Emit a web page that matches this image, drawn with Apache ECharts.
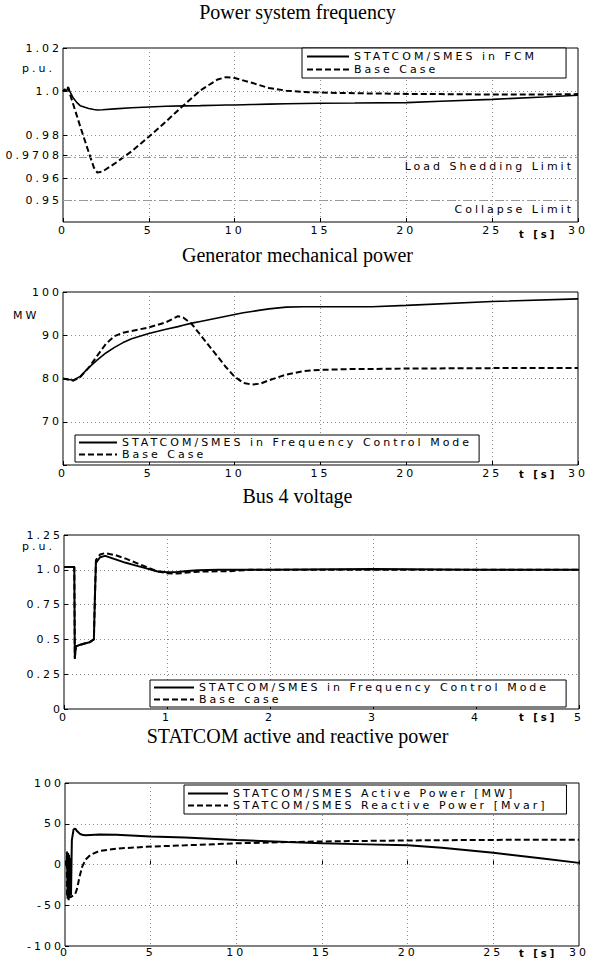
<!DOCTYPE html>
<html>
<head>
<meta charset="utf-8">
<script src="https://cdn.jsdelivr.net/npm/echarts@6/dist/echarts.min.js"></script>
<style>
  html, body { margin: 0; padding: 0; background: #fff; }
  #main { width: 595px; height: 958px; }
  /* the scanned figure uses a very wide sans face */
  #main text[style*="DejaVu"] { letter-spacing: 3px; }
</style>
</head>
<body>
<div id="main"></div>
<script>
// ---- data ----
const freqTime = [0, 0.1, 0.2, 0.3, 0.4, 0.6, 0.8, 1.0, 1.5, 1.8, 2.0, 2.3, 3, 4, 5, 6, 7, 8, 9, 9.5, 10, 11, 12, 13, 14, 15, 17, 20, 22, 25, 28, 30];
const freqStatcom = [1.0, 1.001, 1.0, 1.002, 1.0, 0.997, 0.995, 0.9935, 0.9922, 0.9917, 0.9915, 0.9916, 0.992, 0.9925, 0.9929, 0.9932, 0.9934, 0.9935, 0.9937, 0.9938, 0.9938, 0.994, 0.9942, 0.9944, 0.9945, 0.9946, 0.9947, 0.9949, 0.9955, 0.9964, 0.9975, 0.9983];
const freqBase = [1.0, 1.001, 1.0, 1.002, 0.999, 0.994, 0.989, 0.984, 0.972, 0.965, 0.9627, 0.9632, 0.9668, 0.9725, 0.9792, 0.9862, 0.9935, 1.0005, 1.0055, 1.0066, 1.0062, 1.004, 1.0016, 1.0004, 0.9998, 0.9995, 0.9992, 0.9989, 0.9988, 0.9986, 0.9986, 0.9988];
const freqTicks = [0.95, 0.96, 0.9708, 0.98, 1.0, 1.02];
const freqTickLabels = ['0.95', '0.96', '0.9708', '0.98', '1.0', '1.02'];
const limitValues = [0.9708, 0.95];
const limitNames = ['Load Shedding Limit', 'Collapse Limit'];

const genTime = [0, 0.6, 1, 1.5, 2, 2.5, 3, 3.5, 4, 5, 6, 6.7, 7, 7.5, 8, 8.5, 9, 9.5, 10, 10.5, 11, 11.5, 12, 13, 14, 15, 17, 18, 20, 25, 30];
const genStatcom = [80, 79.6, 80.5, 82.5, 84.3, 85.9, 87.2, 88.3, 89.2, 90.4, 91.4, 92.0, 92.3, 92.8, 93.2, 93.6, 94.0, 94.4, 94.8, 95.2, 95.5, 95.8, 96.1, 96.5, 96.6, 96.6, 96.6, 96.6, 96.9, 97.8, 98.4];
const genBase = [80, 79.5, 80.3, 82.5, 85.3, 88.0, 89.8, 90.6, 91.0, 91.8, 93.0, 94.4, 94.1, 92.6, 90.1, 87.6, 85.1, 82.6, 80.4, 79.0, 78.6, 78.8, 79.6, 80.9, 81.7, 82.0, 82.2, 82.2, 82.3, 82.4, 82.4];

const busTime = [0, 0.1, 0.105, 0.115, 0.15, 0.2, 0.25, 0.29, 0.3, 0.31, 0.35, 0.4, 0.5, 0.6, 0.7, 0.8, 0.9, 1.0, 1.1, 1.2, 1.3, 1.5, 1.6, 1.8, 2, 3, 4, 5];
const busStatcom = [1.02, 1.02, 0.36, 0.45, 0.46, 0.47, 0.48, 0.5, 0.8, 1.05, 1.09, 1.1, 1.075, 1.05, 1.03, 1.01, 0.99, 0.983, 0.985, 0.992, 0.997, 1.0, 1.0, 1.0, 1.0, 1.005, 1.0, 1.0];
const busBase = [1.02, 1.02, 0.37, 0.45, 0.46, 0.47, 0.48, 0.5, 0.8, 1.07, 1.11, 1.12, 1.105, 1.08, 1.05, 1.02, 0.99, 0.975, 0.973, 0.98, 0.986, 0.99, 0.99, 1.0, 1.0, 1.0, 1.0, 1.0];

const powTime = [0, 0.1, 0.12, 0.15, 0.18, 0.21, 0.24, 0.27, 0.3, 0.35, 0.4, 0.5, 0.6, 0.7, 0.85, 1.0, 1.2, 1.5, 2, 3, 5, 7, 10, 13, 15, 17, 20, 22, 25, 28, 30];
const powActive = [0, 0, 16, -42, 14, -44, 12, -40, 8, -38, 30, 43, 44, 41, 38, 36.5, 36, 36.3, 36.8, 36.5, 34.5, 33, 30, 27.5, 26, 25, 23.5, 20.5, 14.5, 7, 2];
const powReactive = [0, 0, -36, -38, -40, -39, -41, -40, -40, -40, -39, -38, -36, -30, -15, -3, 6, 12, 16.5, 19.5, 22, 23.5, 26, 27.5, 28.3, 28.8, 29.5, 29.8, 30.2, 30.4, 30.5];

const titles = ['Power system frequency', 'Generator mechanical power', 'Bus 4 voltage', 'STATCOM active and reactive power'];

// ---- helpers ----
function pairs(t, v) {
  return t.map(function (x, i) { return [x, v[i]]; });
}

const sans = 'DejaVu Sans';
const tickFont = { fontFamily: sans, fontSize: 11, color: '#000' };
const gridLine = { show: true, lineStyle: { color: '#8a8a8a', type: [1, 3], width: 1 } };
const solid = { color: '#000', width: 1.6 };
const dashed = { color: '#000', width: 2, type: [6, 3] };

function xAxis(gi, max, interval, margin) {
  return {
    gridIndex: gi, type: 'value', min: 0, max: max, interval: interval,
    axisLine: { show: false },
    axisTick: { inside: true, length: 4, lineStyle: { color: '#000' } },
    axisLabel: Object.assign({ margin: margin }, tickFont),
    splitLine: gridLine
  };
}

function yAxis(gi, min, max, interval, fmt) {
  return {
    gridIndex: gi, type: 'value', min: min, max: max, interval: interval,
    axisLine: { show: false },
    axisTick: { inside: true, length: 4, lineStyle: { color: '#000' } },
    axisLabel: Object.assign({ margin: 1, formatter: fmt }, tickFont),
    splitLine: gridLine
  };
}

function line(name, gi, t, v, style) {
  return {
    name: name, type: 'line', xAxisIndex: gi, yAxisIndex: gi,
    data: pairs(t, v), symbol: 'none', silent: true,
    lineStyle: style, itemStyle: { color: '#000' }
  };
}

const legendBase = {
  orient: 'vertical', align: 'left', selectedMode: false,
  backgroundColor: '#fff', borderColor: '#000', borderWidth: 1, borderRadius: 0,
  itemStyle: { opacity: 0 },
  textStyle: tickFont
};

const freqY = yAxis(0, 0.94, 1.02, 0.02, function (v) {
  const i = freqTicks.findIndex(function (t) { return Math.abs(t - v) < 1e-6; });
  return i < 0 ? '' : freqTickLabels[i];
});
freqY.axisLabel.customValues = freqTicks;
freqY.axisTick.customValues = freqTicks;

const freqLine = line('STATCOM/SMES in FCM', 0, freqTime, freqStatcom, solid);
freqLine.markLine = {
  symbol: ['none', 'none'], silent: true, animation: false,
  lineStyle: { color: '#9a9a9a', type: [8, 3, 2, 3], width: 1 },
  label: Object.assign({ position: 'insideEndBottom', distance: [4, 4] }, tickFont),
  data: limitValues.map(function (v, i) {
    return { yAxis: v, label: { formatter: limitNames[i] } };
  })
};

const option = {
  animation: false,
  backgroundColor: '#fff',
  title: titles.map(function (t, i) {
    return {
      text: t, left: 'center', top: [2, 245, 486, 726][i], padding: 0,
      textStyle: { fontFamily: 'Liberation Serif', fontWeight: 'normal', fontSize: 20, color: '#000' }
    };
  }),
  grid: [
    { left: 63, top: 48, width: 515, height: 174 },
    { left: 63, top: 292, width: 515, height: 173 },
    { left: 64, top: 535, width: 515, height: 174 },
    { left: 65, top: 783, width: 514, height: 163 }
  ].map(function (g) {
    return Object.assign({ show: true, borderColor: '#000', borderWidth: 1, containLabel: false, outerBoundsMode: 'none' }, g);
  }),
  xAxis: [xAxis(0, 30, 5, 3), xAxis(1, 30, 5, 3), xAxis(2, 5, 1, 3), xAxis(3, 30, 5, 1)],
  yAxis: [
    freqY,
    yAxis(1, 60, 100, 10, function (v) { return v === 60 ? '' : v; }),
    yAxis(2, 0, 1.25, 0.25, function (v) { return v === 1 ? '1.0' : v; }),
    yAxis(3, -100, 100, 50)
  ],
  legend: [
    Object.assign({}, legendBase, {
      data: ['STATCOM/SMES in FCM', 'Base Case'], left: 302, top: 48,
      padding: [3, 86, 3, 4], itemWidth: 42, itemHeight: 11, itemGap: 2
    }),
    Object.assign({}, legendBase, {
      data: ['STATCOM/SMES in Frequency Control Mode', 'Base Case'], left: 75, top: 435,
      padding: [2, 121, 2, 3], itemWidth: 38, itemHeight: 11, itemGap: 1
    }),
    Object.assign({}, legendBase, {
      data: ['STATCOM/SMES in Frequency Control Mode', 'Base case'], left: 150, top: 680,
      padding: [2, 131, 2, 3], itemWidth: 40, itemHeight: 11, itemGap: 1
    }),
    Object.assign({}, legendBase, {
      data: ['STATCOM/SMES Active Power [MW]', 'STATCOM/SMES Reactive Power [Mvar]'], left: 184, top: 785,
      padding: [3, 121, 3, 3], itemWidth: 40, itemHeight: 12, itemGap: 1
    })
  ],
  graphic: [
    { type: 'text', x: 22, y: 68, style: { text: 'p.u.', fontFamily: sans, fontSize: 11, fill: '#000', verticalAlign: 'middle' } },
    { type: 'text', x: 13, y: 315, style: { text: 'MW', fontFamily: sans, fontSize: 11, fill: '#000', verticalAlign: 'middle' } },
    { type: 'text', x: 22, y: 546, style: { text: 'p.u.', fontFamily: sans, fontSize: 11, fill: '#000', verticalAlign: 'middle' } }
  ].concat([234, 474, 717, 953].map(function (y) {
    return { type: 'text', x: 519, y: y, style: { text: 't [s]', fontFamily: sans, fontSize: 10, fontWeight: 'bold', fill: '#000', verticalAlign: 'middle' } };
  })),
  series: [
    freqLine,
    line('Base Case', 0, freqTime, freqBase, dashed),
    line('STATCOM/SMES in Frequency Control Mode', 1, genTime, genStatcom, solid),
    line('Base Case', 1, genTime, genBase, dashed),
    line('STATCOM/SMES in Frequency Control Mode', 2, busTime, busStatcom, { color: '#000', width: 2 }),
    line('Base case', 2, busTime, busBase, dashed),
    line('STATCOM/SMES Active Power [MW]', 3, powTime, powActive, { color: '#000', width: 2 }),
    line('STATCOM/SMES Reactive Power [Mvar]', 3, powTime, powReactive, dashed)
  ]
};

const chart = echarts.init(document.getElementById('main'), null, { renderer: 'svg' });
chart.setOption(option);
</script>
</body>
</html>
